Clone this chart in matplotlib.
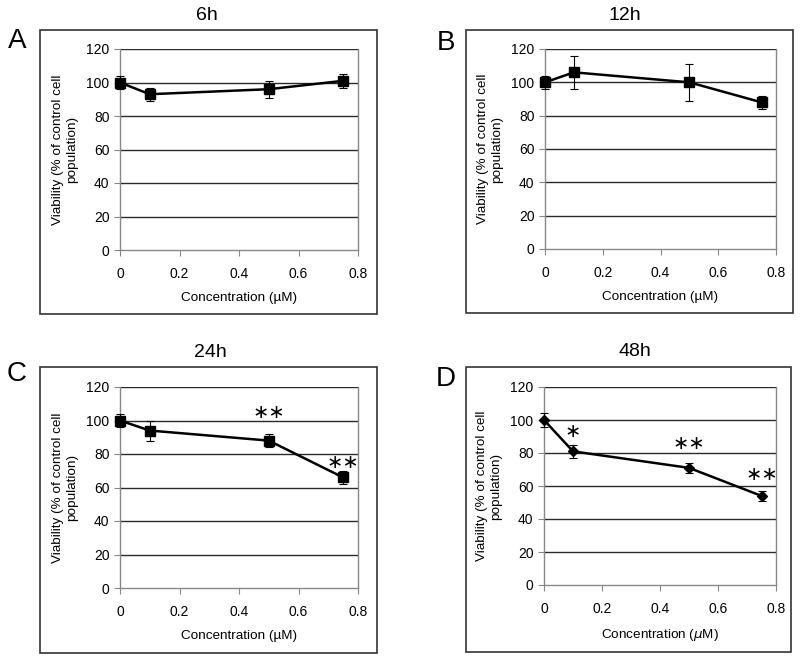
import matplotlib
matplotlib.use("Agg")
import matplotlib.pyplot as plt
from matplotlib.patches import Rectangle

plt.rcParams['font.family'] = ['Liberation Sans', 'DejaVu Sans']

conc = [0, 0.1, 0.5, 0.75]
via_6h = [100, 93, 96, 101]
err_6h = [4, 4, 5, 4]
via_12h = [100, 106, 100, 88]
err_12h = [4, 10, 11, 4]
via_24h = [100, 94, 88, 66]
err_24h = [4, 6, 4, 4]
via_48h = [100, 81, 71, 54]
err_48h = [4, 4, 3, 3]

stars_24h_x = [0.5, 0.75]
stars_24h_y = [105, 75]
stars_24h_txt = ['∗∗', '∗∗']
stars_48h_x = [0.1, 0.5, 0.75]
stars_48h_y = [93, 86, 67]
stars_48h_txt = ['∗', '∗∗', '∗∗']

titles = ['6h', '12h', '24h', '48h']
letters = ['A', 'B', 'C', 'D']
xticks = [0, 0.2, 0.4, 0.6, 0.8]
xticklabels = ['0', '0.2', '0.4', '0.6', '0.8']
yticks = [0, 20, 40, 60, 80, 100, 120]

W, H = 800, 660
fig = plt.figure(figsize=(8, 6.6), dpi=100)

def fx(x):
    return x / W

def fy(y):
    return 1 - y / H

# pixel boxes: (x0, x1, ytop, ybottom)
axes_px = [(120, 358, 49, 250), (545, 776, 49, 249), (120, 358, 387, 588), (544, 776, 387, 585)]
frames_px = [(40, 377, 30, 314), (466, 793, 30, 313), (40, 377, 367, 653), (466, 791, 367, 652)]
title_px = [(207, 15), (625, 15), (210, 353), (635, 352)]
letter_px = [(17, 41), (446, 43), (17, 374), (446, 379)]

data = [(via_6h, err_6h, 's'), (via_12h, err_12h, 's'), (via_24h, err_24h, 's'), (via_48h, err_48h, 'D')]
xlabels = ['Concentration (µM)', 'Concentration (µM)', 'Concentration (µM)', 'Concentration ($\\mu$M)']

for i in range(4):
    fx0, fx1, ft, fb = frames_px[i]
    fig.patches.append(Rectangle((fx(fx0), fy(fb)), fx(fx1 - fx0), (fb - ft) / H,
                                 transform=fig.transFigure, fill=False, edgecolor='#333333', lw=1.2))
    x0, x1, yt, yb = axes_px[i]
    ax = fig.add_axes([fx(x0), fy(yb), fx(x1 - x0), (yb - yt) / H])
    vals, errs, mk = data[i]
    ms = 7 if mk == 's' else 5.5
    ax.errorbar(conc, vals, yerr=errs, color='black', marker=mk, markersize=ms, lw=1.8,
                elinewidth=0.8, capsize=3, capthick=0.8, zorder=3, clip_on=False)
    ax.set_xlim(0, 0.8)
    ax.set_ylim(0, 120)
    ax.set_xticks(xticks)
    ax.set_xticklabels(xticklabels)
    ax.set_yticks(yticks)
    for v in yticks[1:]:
        ax.axhline(v, color='#2a2a2a', lw=1.0, zorder=1)
    for s in ['left', 'bottom', 'right']:
        ax.spines[s].set_color('#888888')
        ax.spines[s].set_linewidth(1.0)
    ax.spines['top'].set_visible(False)
    ax.tick_params(axis='both', colors='#888888', labelcolor='black', labelsize=10,
                   length=4, width=0.8, direction='out')
    ax.tick_params(axis='x', pad=8)
    ax.set_xlabel(xlabels[i], fontsize=9.7, labelpad=8)
    ax.set_ylabel('Viability (% of control cell\npopulation)', fontsize=9.7, labelpad=6)
    fig.text(fx(title_px[i][0]), fy(title_px[i][1]), titles[i], ha='center', va='center', fontsize=14)
    fig.text(fx(letter_px[i][0]), fy(letter_px[i][1]), letters[i], ha='center', va='center', fontsize=20)
    if i == 2:
        for x, y, t in zip(stars_24h_x, stars_24h_y, stars_24h_txt):
            ax.text(x, y, t, ha='center', va='center', fontsize=14, family='DejaVu Sans', clip_on=False)
    if i == 3:
        for x, y, t in zip(stars_48h_x, stars_48h_y, stars_48h_txt):
            ax.text(x, y, t, ha='center', va='center', fontsize=14, family='DejaVu Sans', clip_on=False)

fig.savefig('out.png', dpi=100)
